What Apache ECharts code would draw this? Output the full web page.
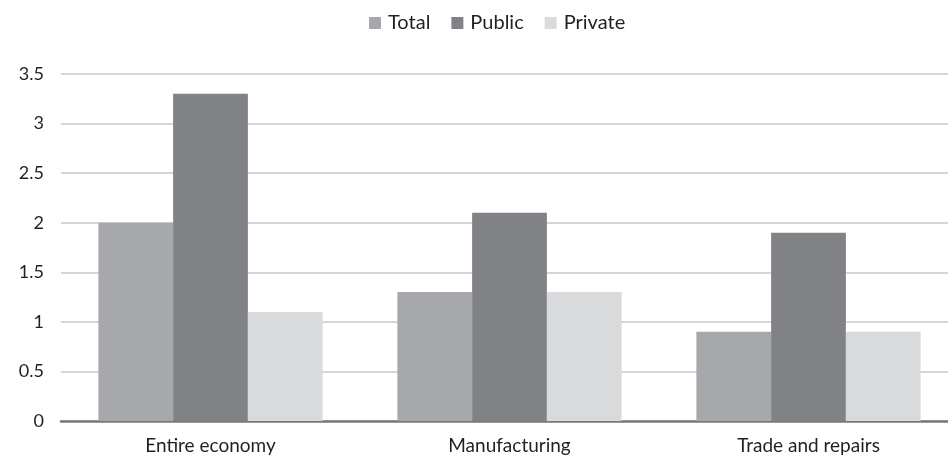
<!DOCTYPE html>
<html>
<head>
<meta charset="utf-8">
<script src="https://cdn.jsdelivr.net/npm/echarts@6/dist/echarts.min.js"></script>
<style>
  html, body { margin: 0; padding: 0; background: #fff; }
  #chart { width: 948px; height: 460px; }
</style>
</head>
<body>
<div id="chart"></div>
<script>
const categories = ['Entire economy', 'Manufacturing', 'Trade and repairs']
const totalValues = [2.0, 1.3, 0.9]
const publicValues = [3.3, 2.1, 1.9]
const privateValues = [1.1, 1.3, 0.9]
const yTicks = [0, 0.5, 1, 1.5, 2, 2.5, 3, 3.5]

const chart = echarts.init(document.getElementById('chart'))

const font = 'Lato, "Open Sans", sans-serif'

// the plot runs a little past the right edge in the original
const option = {
  animation: false,
  textStyle: { fontFamily: font, color: '#231f20' },
  legend: {
    top: 8,
    left: 364,
    itemWidth: 12,
    itemHeight: 12,
    itemGap: 21,
    icon: 'rect',
    textStyle: { fontSize: 20, color: '#231f20', fontFamily: font, padding: [0, 0, 0, 2] },
    data: ['Total', 'Public', 'Private']
  },
  grid: {
    top: 74,
    left: 61,
    right: -10,
    bottom: 39,
    outerBoundsMode: 'none'
  },
  xAxis: {
    type: 'category',
    data: categories,
    axisTick: { show: false },
    axisLine: { lineStyle: { color: '#77787b', width: 2.5 } },
    axisLabel: { fontSize: 19, color: '#231f20', margin: 15, fontFamily: font }
  },
  yAxis: {
    type: 'value',
    min: 0,
    max: yTicks[yTicks.length - 1],
    interval: 0.5,
    axisLine: { show: false },
    axisTick: { show: false },
    axisLabel: { fontSize: 18, color: '#231f20', margin: 17, fontFamily: font },
    splitLine: { lineStyle: { color: '#c8c9cb', width: 1.5 } }
  },
  series: [
    {
      name: 'Total',
      type: 'bar',
      data: totalValues,
      barGap: '0%',
      barCategoryGap: '25%',
      itemStyle: { color: '#a7a8ab' }
    },
    {
      name: 'Public',
      type: 'bar',
      data: publicValues,
      itemStyle: { color: '#818285' }
    },
    {
      name: 'Private',
      type: 'bar',
      data: privateValues,
      itemStyle: { color: '#d9dadb' }
    }
  ]
}

chart.setOption(option)
</script>
</body>
</html>
